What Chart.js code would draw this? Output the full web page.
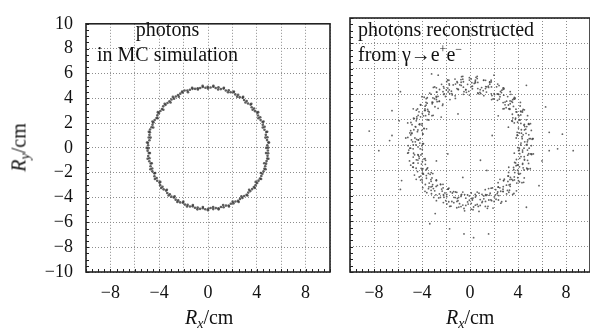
<!DOCTYPE html>
<html lang="en">
<head>
<meta charset="UTF-8">
<title>Photon conversion points</title>
<script src="https://cdn.jsdelivr.net/npm/chart.js"></script>
<style>
    html, body { margin: 0; padding: 0; background: #fff; width: 590px; height: 330px; overflow: hidden; }
    canvas { position: absolute; top: 0; }
    .txt { position: absolute; font-family: 'Liberation Serif', 'Times New Roman', serif; font-size: 20px; line-height: 25px; color: #111; white-space: nowrap; }
    .txt sup { font-size: 12px; line-height: 0; vertical-align: 8px; }
    .txt sub { font-size: 14px; line-height: 0; vertical-align: -4px; font-style: italic; }
</style>
</head>
<body>
    <canvas id="mcChart" width="340" height="330" style="left:0"></canvas>
    <canvas id="recoChart" width="260" height="330" style="left:340px"></canvas>

    <div class="txt" style="left:97px; top:17px; width:141px; text-align:center">photons<br>in MC simulation</div>
    <div class="txt" style="left:358px; top:17px">photons reconstructed<br>from γ→e<sup>+</sup>e<sup>−</sup></div>
    <div class="txt" style="left:185px; top:305px; width:48px; text-align:center"><i>R</i><sub>x</sub>/cm</div>
    <div class="txt" style="left:446px; top:305px; width:48px; text-align:center"><i>R</i><sub>x</sub>/cm</div>
    <div class="txt" style="left:-6px; top:135px; width:50px; text-align:center; transform:rotate(-90deg)"><i>R</i><sub>y</sub>/cm</div>

<script>
// axis ticks
const xTickValues = [-8, -4, 0, 4, 8];
const xTickLabels = ['\u22128', '\u22124', '0', '4', '8'];
const yTickValues = [-10, -8, -6, -4, -2, 0, 2, 4, 6, 8, 10];
const yTickLabels = ['\u221210', '\u22128', '\u22126', '\u22124', '\u22122', '0', '2', '4', '6', '8', '10'];

// photons in MC simulation (Rx, Ry in cm)
const mcPoints = [
    [4.93,0.02],[4.86,0.21],[4.95,0.44],[4.84,0.63],[4.87,0.86],[4.74,1.05],[4.78,1.28],[4.63,1.46],
    [4.64,1.70],[4.49,1.86],[4.47,2.09],[4.31,2.24],[4.28,2.47],[4.10,2.61],[4.04,2.83],[3.86,2.96],
    [3.78,3.18],[3.58,3.28],[3.49,3.49],[3.28,3.58],[3.17,3.78],[2.96,3.86],[2.84,4.05],[2.60,4.09],
    [2.47,4.28],[2.24,4.31],[2.09,4.48],[1.86,4.49],[1.70,4.65],[1.46,4.63],[1.28,4.78],[1.05,4.74],
    [0.86,4.88],[0.63,4.83],[0.44,4.93],[0.21,4.87],
    [-0.02,4.92],[-0.21,4.85],[-0.43,4.91],[-0.64,4.83],[-0.84,4.80],[-1.06,4.76],[-1.27,4.76],[-1.48,4.69],
    [-1.69,4.62],[-1.92,4.62],[-2.08,4.46],[-2.27,4.37],[-2.46,4.26],[-2.64,4.14],[-2.78,3.97],[-2.99,3.90],
    [-3.16,3.76],[-3.32,3.62],[-3.48,3.47],[-3.67,3.35],[-3.77,3.14],[-3.90,2.97],[-4.03,2.80],[-4.15,2.62],
    [-4.22,2.41],[-4.37,2.25],[-4.47,2.06],[-4.55,1.87],[-4.63,1.67],[-4.75,1.48],[-4.76,1.26],[-4.80,1.05],
    [-4.86,0.84],[-4.80,0.62],[-4.92,0.42],[-4.91,0.21],
    [-4.88,-0.02],[-4.95,-0.22],[-4.85,-0.42],[-4.90,-0.65],[-4.80,-0.84],[-4.81,-1.07],[-4.70,-1.26],[-4.71,-1.48],
    [-4.57,-1.66],[-4.56,-1.89],[-4.40,-2.05],[-4.39,-2.28],[-4.21,-2.43],[-4.16,-2.65],[-3.98,-2.79],[-3.92,-3.00],
    [-3.73,-3.13],[-3.64,-3.34],[-3.44,-3.44],[-3.34,-3.64],[-3.13,-3.74],[-3.00,-3.93],[-2.80,-4.00],[-2.65,-4.17],
    [-2.44,-4.23],[-2.28,-4.39],[-2.06,-4.42],[-1.89,-4.57],[-1.67,-4.59],[-1.48,-4.72],[-1.26,-4.71],[-1.07,-4.82],
    [-0.85,-4.80],[-0.65,-4.91],[-0.42,-4.86],[-0.22,-4.94],
    [0.02,-4.90],[0.21,-4.84],[0.43,-4.93],[0.64,-4.85],[0.86,-4.87],[1.06,-4.76],[1.28,-4.78],[1.47,-4.65],
    [1.69,-4.64],[1.87,-4.50],[2.09,-4.47],[2.25,-4.32],[2.46,-4.27],[2.62,-4.11],[2.82,-4.03],[2.97,-3.87],
    [3.16,-3.77],[3.30,-3.60],[3.47,-3.48],[3.62,-3.32],[3.76,-3.16],[3.90,-3.00],[4.03,-2.82],[4.14,-2.64],
    [4.26,-2.46],[4.37,-2.27],[4.46,-2.08],[4.55,-1.89],[4.62,-1.68],[4.69,-1.48],[4.76,-1.27],[4.80,-1.06],
    [4.86,-0.85],[4.88,-0.64],[4.93,-0.43],[4.91,-0.21],
    // inner / outer edge of the band
    [4.78,0.00],[5.00,0.44],[4.71,0.83],[4.85,1.30],[4.49,1.64],[4.55,2.12],[4.13,2.39],[4.11,2.88],
    [3.66,3.07],[3.55,3.55],[3.07,3.66],[2.88,4.11],[2.39,4.13],[2.12,4.55],[1.64,4.49],[1.30,4.85],
    [0.83,4.71],[0.44,5.00],
    [0.00,4.78],[-0.44,5.00],[-0.83,4.71],[-1.30,4.85],[-1.64,4.49],[-2.12,4.55],[-2.39,4.13],[-2.88,4.11],
    [-3.07,3.66],[-3.55,3.55],[-3.66,3.07],[-4.11,2.88],[-4.13,2.39],[-4.55,2.12],[-4.49,1.64],[-4.85,1.30],
    [-4.71,0.83],[-5.00,0.44],
    [-5.02,0.00],[-4.76,-0.42],[-4.95,-0.87],[-4.61,-1.24],[-4.72,-1.72],[-4.33,-2.02],[-4.35,-2.51],[-3.91,-2.74],
    [-3.84,-3.23],[-3.37,-3.37],[-3.23,-3.84],[-2.74,-3.91],[-2.51,-4.35],[-2.02,-4.33],[-1.72,-4.72],[-1.24,-4.61],
    [-0.87,-4.95],[-0.42,-4.76],
    [0.00,-5.02],[0.42,-4.76],[0.87,-4.95],[1.24,-4.61],[1.72,-4.72],[2.02,-4.33],[2.51,-4.35],[2.74,-3.91],
    [3.23,-3.84],[3.37,-3.37],[3.84,-3.23],[3.91,-2.74],[4.35,-2.51],[4.33,-2.02],[4.72,-1.72],[4.61,-1.24],
    [4.95,-0.87],[4.76,-0.42]
];

// photons reconstructed from gamma -> e+e- (Rx, Ry in cm)
const recoPoints = [
    [5.05,0.50],[4.10,-0.40],[4.70,0.00],[3.85,0.55],[4.28,1.20],[5.18,0.45],[4.43,0.80],[4.93,-0.25],
    [4.73,1.45],[3.93,1.00],[5.23,0.50],[4.33,0.65],[4.89,1.69],[3.94,0.79],[4.54,1.19],[3.69,1.74],
    [4.02,2.37],[4.92,1.62],[4.17,1.97],[4.67,0.92],[4.37,2.59],[3.57,2.14],[4.87,1.64],[3.97,1.79],
    [4.43,2.80],[3.48,1.90],[4.08,2.30],[3.23,2.85],[3.47,3.44],[4.37,2.69],[3.62,3.04],[4.12,1.99],
    [3.72,3.61],[2.92,3.16],[4.22,2.66],[3.32,2.81],[3.70,3.75],[2.75,2.85],[3.35,3.25],[2.50,3.80],
    [2.66,4.32],[3.56,3.57],[2.81,3.92],[3.31,2.87],[2.84,4.42],[2.04,3.97],[3.34,3.47],[2.44,3.62],
    [2.75,4.48],[1.80,3.58],[2.40,3.98],[1.55,4.53],[1.64,4.97],[2.54,4.22],[1.79,4.57],[2.29,3.52],
    [1.77,4.97],[0.97,4.52],[2.27,4.02],[1.37,4.17],[1.64,4.94],[0.69,4.04],[1.29,4.44],[0.44,4.99],
    [0.50,5.33],[1.40,4.58],[0.65,4.93],[1.15,3.88],[0.60,5.23],[-0.20,4.78],[1.10,4.28],[0.20,4.43],
    [0.45,5.10],[-0.50,4.20],[0.10,4.60],[-0.75,5.15],[-0.70,5.38],[0.20,4.63],[-0.55,4.98],[-0.05,3.93],
    [-0.60,5.18],[-1.40,4.73],[-0.10,4.23],[-1.00,4.38],[-0.74,4.94],[-1.69,4.04],[-1.09,4.44],[-1.94,4.99],
    [-1.87,5.12],[-0.97,4.37],[-1.72,4.72],[-1.22,3.67],[-1.74,4.82],[-2.54,4.37],[-1.24,3.87],[-2.14,4.02],
    [-1.85,4.48],[-2.80,3.58],[-2.20,3.98],[-3.05,4.53],[-2.94,4.57],[-2.04,3.82],[-2.79,4.17],[-2.29,3.12],
    [-2.76,4.17],[-3.56,3.72],[-2.26,3.22],[-3.16,3.37],[-2.80,3.75],[-3.75,2.85],[-3.15,3.25],[-4.00,3.80],
    [-3.82,3.76],[-2.92,3.01],[-3.67,3.36],[-3.17,2.31],[-3.57,3.29],[-4.37,2.84],[-3.07,2.34],[-3.97,2.49],
    [-3.53,2.80],[-4.48,1.90],[-3.88,2.30],[-4.73,2.85],[-4.47,2.74],[-3.57,1.99],[-4.32,2.34],[-3.82,1.29],
    [-4.12,2.22],[-4.92,1.77],[-3.62,1.27],[-4.52,1.42],[-3.99,1.69],[-4.94,0.79],[-4.34,1.19],[-5.19,1.74],
    [-4.83,1.60],[-3.93,0.85],[-4.68,1.20],[-4.18,0.15],[-4.38,1.05],[-5.18,0.60],[-3.88,0.10],[-4.78,0.25],
    [-4.15,0.50],[-5.10,-0.40],[-4.50,0.00],[-5.35,0.55],[-4.88,0.40],[-3.98,-0.35],[-4.73,0.00],[-4.23,-1.05],
    [-4.33,-0.15],[-5.13,-0.60],[-3.83,-1.10],[-4.73,-0.95],[-3.99,-0.69],[-4.94,-1.59],[-4.34,-1.19],[-5.19,-0.64],
    [-4.62,-0.77],[-3.72,-1.52],[-4.47,-1.17],[-3.97,-2.22],[-3.97,-1.29],[-4.77,-1.74],[-3.47,-2.24],[-4.37,-2.09],
    [-3.53,-1.80],[-4.48,-2.70],[-3.88,-2.30],[-4.73,-1.75],[-4.07,-1.84],[-3.17,-2.59],[-3.92,-2.24],[-3.42,-3.29],
    [-3.32,-2.31],[-4.12,-2.76],[-2.82,-3.26],[-3.72,-3.11],[-2.80,-2.75],[-3.75,-3.65],[-3.15,-3.25],[-4.00,-2.70],
    [-3.26,-2.72],[-2.36,-3.47],[-3.11,-3.12],[-2.61,-4.17],[-2.44,-3.12],[-3.24,-3.57],[-1.94,-4.07],[-2.84,-3.92],
    [-1.85,-3.48],[-2.80,-4.38],[-2.20,-3.98],[-3.05,-3.43],[-2.24,-3.37],[-1.34,-4.12],[-2.09,-3.77],[-1.59,-4.82],
    [-1.37,-3.67],[-2.17,-4.12],[-0.87,-4.62],[-1.77,-4.47],[-0.74,-3.94],[-1.69,-4.84],[-1.09,-4.44],[-1.94,-3.89],
    [-1.10,-3.73],[-0.20,-4.48],[-0.95,-4.13],[-0.45,-5.18],[-0.20,-3.93],[-1.00,-4.38],[0.30,-4.88],[-0.60,-4.73],
    [0.45,-4.10],[-0.50,-5.00],[0.10,-4.60],[-0.75,-4.05],[0.10,-3.78],[1.00,-4.53],[0.25,-4.18],[0.75,-5.23],
    [1.00,-3.88],[0.20,-4.33],[1.50,-4.83],[0.60,-4.68],[1.64,-3.94],[0.69,-4.84],[1.29,-4.44],[0.44,-3.89],
    [1.27,-3.52],[2.17,-4.27],[1.42,-3.92],[1.92,-4.97],[2.14,-3.52],[1.34,-3.97],[2.64,-4.47],[1.74,-4.32],
    [2.75,-3.48],[1.80,-4.38],[2.40,-3.98],[1.55,-3.43],[2.34,-2.97],[3.24,-3.72],[2.49,-3.37],[2.99,-4.42],
    [3.16,-2.87],[2.36,-3.32],[3.66,-3.82],[2.76,-3.67],[3.70,-2.75],[2.75,-3.65],[3.35,-3.25],[2.50,-2.70],
    [3.22,-2.16],[4.12,-2.91],[3.37,-2.56],[3.87,-3.61],[3.97,-1.99],[3.17,-2.44],[4.47,-2.94],[3.57,-2.79],
    [4.43,-1.80],[3.48,-2.70],[4.08,-2.30],[3.23,-1.75],[3.87,-1.14],[4.77,-1.89],[4.02,-1.54],[4.52,-2.59],
    [4.52,-0.92],[3.72,-1.37],[5.02,-1.87],[4.12,-1.72],[4.89,-0.69],[3.94,-1.59],[4.54,-1.19],[3.69,-0.64],
    [4.23,0.00],[5.13,-0.75],[4.38,-0.40],[4.88,-1.45],[4.78,0.25],[3.98,-0.20],[5.28,-0.70],[4.38,-0.55],
    // second layer of the ring
    [4.25,0.15],[4.90,0.80],[5.25,0.50],[4.50,-0.25],[4.81,0.40],[4.11,0.95],[4.56,1.45],[5.11,1.15],
    [3.94,0.75],[4.64,1.25],[4.24,1.70],[4.94,0.50],[4.04,1.33],[4.69,1.98],[5.04,1.68],[4.29,0.93],
    [4.50,1.56],[3.80,2.11],[4.25,2.61],[4.80,2.31],[3.53,1.87],[4.23,2.37],[3.83,2.82],[4.53,1.62],
    [3.53,2.42],[4.18,3.07],[4.53,2.77],[3.78,2.02],[3.90,2.60],[3.20,3.15],[3.65,3.65],[4.20,3.35],
    [2.84,2.86],[3.54,3.36],[3.14,3.81],[3.84,2.61],[2.76,3.34],[3.41,3.99],[3.76,3.69],[3.01,2.94],
    [3.05,3.45],[2.35,4.00],[2.80,4.50],[3.35,4.20],[1.92,3.63],[2.62,4.13],[2.22,4.58],[2.92,3.38],
    [1.77,4.03],[2.42,4.68],[2.77,4.38],[2.02,3.63],[2.01,4.05],[1.31,4.60],[1.76,5.10],[2.31,4.80],
    [0.83,4.14],[1.53,4.64],[1.13,5.09],[1.83,3.89],[0.65,4.44],[1.30,5.09],[1.65,4.79],[0.90,4.04],
    [0.85,4.36],[0.15,4.91],[0.60,5.41],[1.15,5.11],[-0.35,4.35],[0.35,4.85],[-0.05,5.30],[0.65,4.10],
    [-0.55,4.55],[0.10,5.20],[0.45,4.90],[-0.30,4.15],[-0.35,4.36],[-1.05,4.91],[-0.60,5.41],[-0.05,5.11],
    [-1.55,4.24],[-0.85,4.74],[-1.25,5.19],[-0.55,3.99],[-1.73,4.34],[-1.08,4.99],[-0.73,4.69],[-1.48,3.94],
    [-1.51,4.05],[-2.21,4.60],[-1.76,5.10],[-1.21,4.80],[-2.67,3.83],[-1.97,4.33],[-2.37,4.78],[-1.67,3.58],
    [-2.82,3.83],[-2.17,4.48],[-1.82,4.18],[-2.57,3.43],[-2.55,3.45],[-3.25,4.00],[-2.80,4.50],[-2.25,4.20],
    [-3.66,3.14],[-2.96,3.64],[-3.36,4.09],[-2.66,2.89],[-3.74,3.06],[-3.09,3.71],[-2.74,3.41],[-3.49,2.66],
    [-3.40,2.60],[-4.10,3.15],[-3.65,3.65],[-3.10,3.35],[-4.43,2.22],[-3.73,2.72],[-4.13,3.17],[-3.43,1.97],
    [-4.43,2.07],[-3.78,2.72],[-3.43,2.42],[-4.18,1.67],[-4.00,1.56],[-4.70,2.11],[-4.25,2.61],[-3.70,2.31],
    [-4.94,1.13],[-4.24,1.63],[-4.64,2.08],[-3.94,0.88],[-4.84,0.95],[-4.19,1.60],[-3.84,1.30],[-4.59,0.55],
    [-4.31,0.40],[-5.01,0.95],[-4.56,1.45],[-4.01,1.15],[-5.15,-0.05],[-4.45,0.45],[-4.85,0.90],[-4.15,-0.30],
    [-4.95,-0.25],[-4.30,0.40],[-3.95,0.10],[-4.70,-0.65],[-4.31,-0.80],[-5.01,-0.25],[-4.56,0.25],[-4.01,-0.05],
    [-5.04,-1.25],[-4.34,-0.75],[-4.74,-0.30],[-4.04,-1.50],[-4.74,-1.43],[-4.09,-0.78],[-3.74,-1.08],[-4.49,-1.83],
    [-4.00,-1.96],[-4.70,-1.41],[-4.25,-0.91],[-3.70,-1.21],[-4.63,-2.37],[-3.93,-1.87],[-4.33,-1.42],[-3.63,-2.62],
    [-4.23,-2.52],[-3.58,-1.87],[-3.23,-2.17],[-3.98,-2.92],[-3.40,-3.00],[-4.10,-2.45],[-3.65,-1.95],[-3.10,-2.25],
    [-3.94,-3.36],[-3.24,-2.86],[-3.64,-2.41],[-2.94,-3.61],[-3.46,-3.44],[-2.81,-2.79],[-2.46,-3.09],[-3.21,-3.84],
    [-2.55,-3.85],[-3.25,-3.30],[-2.80,-2.80],[-2.25,-3.10],[-3.02,-4.13],[-2.32,-3.63],[-2.72,-3.18],[-2.02,-4.38],
    [-2.47,-4.13],[-1.82,-3.48],[-1.47,-3.78],[-2.22,-4.53],[-1.51,-4.45],[-2.21,-3.90],[-1.76,-3.40],[-1.21,-3.70],
    [-1.93,-4.64],[-1.23,-4.14],[-1.63,-3.69],[-0.93,-4.89],[-1.35,-4.54],[-0.70,-3.89],[-0.35,-4.19],[-1.10,-4.94],
    [-0.35,-4.76],[-1.05,-4.21],[-0.60,-3.71],[-0.05,-4.01],[-0.75,-4.85],[-0.05,-4.35],[-0.45,-3.90],[0.25,-5.10],
    [-0.15,-4.65],[0.50,-4.00],[0.85,-4.30],[0.10,-5.05],[0.85,-4.76],[0.15,-4.21],[0.60,-3.71],[1.15,-4.01],
    [0.45,-4.74],[1.15,-4.24],[0.75,-3.79],[1.45,-4.99],[1.03,-4.44],[1.68,-3.79],[2.03,-4.09],[1.28,-4.84],
    [2.01,-4.45],[1.31,-3.90],[1.76,-3.40],[2.31,-3.70],[1.57,-4.33],[2.27,-3.83],[1.87,-3.38],[2.57,-4.58],
    [2.12,-3.93],[2.77,-3.28],[3.12,-3.58],[2.37,-4.33],[3.05,-3.85],[2.35,-3.30],[2.80,-2.80],[3.35,-3.10],
    [2.56,-3.64],[3.26,-3.14],[2.86,-2.69],[3.56,-3.89],[3.04,-3.16],[3.69,-2.51],[4.04,-2.81],[3.29,-3.56],
    [3.90,-3.00],[3.20,-2.45],[3.65,-1.95],[4.20,-2.25],[3.33,-2.72],[4.03,-2.22],[3.63,-1.77],[4.33,-2.97],
    [3.73,-2.17],[4.38,-1.52],[4.73,-1.82],[3.98,-2.57],[4.50,-1.96],[3.80,-1.41],[4.25,-0.91],[4.80,-1.21],
    [3.84,-1.63],[4.54,-1.13],[4.14,-0.68],[4.84,-1.88],[4.14,-1.05],[4.79,-0.40],[5.14,-0.70],[4.39,-1.45],
    [4.81,-0.80],[4.11,-0.25],[4.56,0.25],[5.11,-0.05],[4.05,-0.45],[4.75,0.05],[4.35,0.50],[5.05,-0.70],
    // scattered
    [-8.4,1.1],[-7.6,-0.45],[-6.5,0.75],[-6.5,2.7],[-5.8,4.2],[-5.7,-2.8],[-5.8,-3.5],[-3.35,-6.2],
    [-2.9,-5.4],[-1.7,-6.6],[-0.5,-7.0],[0.3,-7.3],[1.55,-7.0],[4.7,-4.9],[6.6,-0.45],[7.3,-0.3],
    [8.6,-0.45],[7.7,0.85],[6.6,1.0],[6.0,-1.25],[4.7,4.7],[6.3,3.0],[2.0,5.5],[-3.2,5.6],
    [-2.65,5.5],[0.87,-1.2],[1.85,0.75],[-1.85,-0.7],[-0.6,-2.55],[2.8,-2.8],[1.4,-2.0],[-1.0,2.45],
    [-2.4,2.2],[2.35,2.3],[-2.8,-1.25],[3.2,1.4],[-3.6,-3.75],[5.75,-3.2],[-6.7,0.35],[-5.9,1.9]
];

const serif = "'Liberation Serif', 'Times New Roman', serif";

// box frame and small inner ticks on left and bottom edges
const framePlugin = {
    id: 'frame',
    afterDraw(chart) {
        const { ctx, chartArea: a, scales: { x, y } } = chart;
        ctx.save();
        ctx.strokeStyle = '#222';
        ctx.lineWidth = 1;
        ctx.beginPath();
        for (let v = -10; v <= 10; v += 0.5) {
            const px = Math.round(x.getPixelForValue(v)) + 0.5;
            ctx.moveTo(px, a.bottom);
            ctx.lineTo(px, a.bottom - 3);
            const py = Math.round(y.getPixelForValue(v)) + 0.5;
            ctx.moveTo(a.left, py);
            ctx.lineTo(a.left + 3, py);
        }
        ctx.stroke();
        ctx.lineWidth = 1.6;
        ctx.strokeRect(a.left, a.top, a.right - a.left, a.bottom - a.top);
        ctx.restore();
    }
};

function makeScales(yWidth, showY) {
    return {
        x: {
            type: 'linear', min: -10, max: 10,
            ticks: {
                stepSize: 2, autoSkip: false, maxRotation: 0, padding: 10, color: '#111',
                font: { family: serif, size: 18 },
                callback: v => { const i = xTickValues.indexOf(v); return i >= 0 ? xTickLabels[i] : ''; }
            },
            grid: { color: '#8c8c8c', lineWidth: 1, drawTicks: false },
            border: { display: false, dash: [1, 2] },
            afterFit: s => { s.height = 58; }
        },
        y: {
            type: 'linear', min: -10, max: 10,
            ticks: {
                display: showY, stepSize: 2, autoSkip: false, padding: 13, color: '#111',
                font: { family: serif, size: 18 },
                callback: v => { const i = yTickValues.indexOf(v); return i >= 0 ? yTickLabels[i] : ''; }
            },
            grid: { color: '#8c8c8c', lineWidth: 1, drawTicks: false },
            border: { display: false, dash: [1, 2] },
            afterFit: s => { s.width = yWidth; }
        }
    };
}

function makeChart(id, points, color, radius, yWidth, showY, padRight) {
    return new Chart(document.getElementById(id), {
        type: 'scatter',
        data: {
            datasets: [{
                data: points.map(([x, y]) => ({ x, y })),
                backgroundColor: color,
                borderWidth: 0,
                pointRadius: radius,
                pointHoverRadius: radius
            }]
        },
        options: {
            responsive: false,
            animation: false,
            events: [],
            layout: { padding: { top: 18, right: padRight, left: 0, bottom: 0 } },
            plugins: { legend: { display: false }, tooltip: { enabled: false } },
            scales: makeScales(yWidth, showY)
        },
        plugins: [framePlugin]
    });
}

makeChart('mcChart', mcPoints, 'rgba(55,55,55,0.8)', 1.3, 86, true, 9);
makeChart('recoChart', recoPoints, 'rgba(70,70,70,0.85)', 0.9, 8, false, 6);
</script>
</body>
</html>
